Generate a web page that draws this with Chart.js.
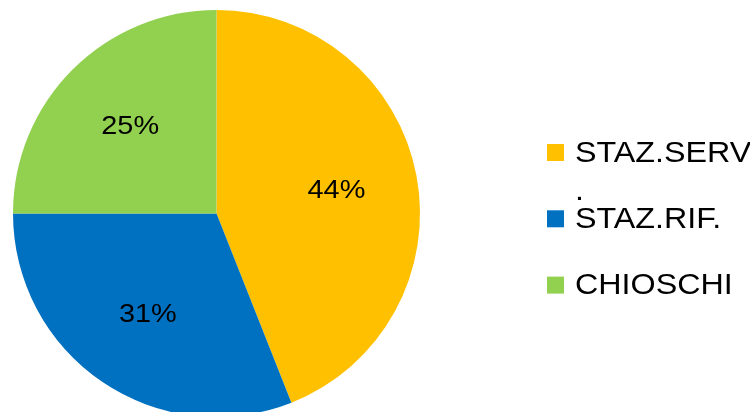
<!DOCTYPE html>
<html lang="it">
<head>
    <meta charset="UTF-8">
    <title>Ripartizione</title>
    <script src="https://cdn.jsdelivr.net/npm/chart.js"></script>
    <style>
        html, body {
            margin: 0;
            padding: 0;
            background: #ffffff;
            overflow: hidden;
        }
    </style>
</head>
<body>
    <canvas id="pieChart" width="750" height="430"></canvas>

    <script>
        const categories = ['STAZ.SERV.', 'STAZ.RIF.', 'CHIOSCHI'];
        const shares = [44, 31, 25];
        const colors = ['#FFC000', '#0070C0', '#92D050'];

        // il testo dell'originale e' un po' allargato in orizzontale
        const stretch = 1.075;

        // percentuali dentro le fette
        const sliceLabels = {
            id: 'sliceLabels',
            afterDatasetsDraw(chart) {
                const ctx = chart.ctx;
                const meta = chart.getDatasetMeta(0);
                const total = shares.reduce((a, b) => a + b, 0);
                ctx.save();
                ctx.font = '26.5px "Liberation Sans", Arial, sans-serif';
                ctx.fillStyle = '#000000';
                ctx.textAlign = 'center';
                ctx.textBaseline = 'middle';
                meta.data.forEach((arc, i) => {
                    const p = arc.getProps(['x', 'y', 'startAngle', 'endAngle', 'outerRadius'], true);
                    const mid = (p.startAngle + p.endAngle) / 2;
                    const r = p.outerRadius * 0.6;
                    const pct = Math.round(shares[i] / total * 100) + '%';
                    const tx = p.x + Math.cos(mid) * r;
                    const ty = p.y + Math.sin(mid) * r;
                    ctx.save();
                    ctx.translate(tx, ty);
                    ctx.scale(1.09, 1);
                    ctx.fillText(pct, 0, 0);
                    ctx.restore();
                });
                ctx.restore();
            }
        };

        // legenda a destra, con a capo come nell'originale
        const sideLegend = {
            id: 'sideLegend',
            afterDraw(chart) {
                const ctx = chart.ctx;
                const x0 = 547, y0 = 152.5, step = 66.3, box = 17;
                const textX = 575, maxW = 178;
                ctx.save();
                ctx.font = '30px "Liberation Sans", Arial, sans-serif';
                ctx.textAlign = 'left';
                ctx.textBaseline = 'alphabetic';
                chart.data.labels.forEach((label, i) => {
                    const cy = y0 + i * step;
                    ctx.fillStyle = chart.data.datasets[0].backgroundColor[i];
                    ctx.fillRect(x0, cy - box / 2, box, box);
                    ctx.fillStyle = '#000000';
                    let lines = [];
                    let rest = label;
                    while (rest.length) {
                        let n = rest.length;
                        while (n > 1 && ctx.measureText(rest.slice(0, n)).width * stretch > maxW) n--;
                        lines.push(rest.slice(0, n));
                        rest = rest.slice(n);
                    }
                    lines.forEach((line, j) => {
                        ctx.save();
                        ctx.translate(textX, cy + 9 + j * 38);
                        ctx.scale(stretch, 1);
                        ctx.fillText(line, 0, 0);
                        ctx.restore();
                    });
                });
                ctx.restore();
            }
        };

        new Chart(document.getElementById('pieChart'), {
            type: 'pie',
            data: {
                labels: categories,
                datasets: [{
                    data: shares,
                    backgroundColor: colors,
                    borderWidth: 0
                }]
            },
            options: {
                responsive: false,
                animation: false,
                layout: {
                    padding: { left: 13, top: 10, right: 330, bottom: 13 }
                },
                plugins: {
                    legend: { display: false },
                    tooltip: { enabled: false }
                }
            },
            plugins: [sliceLabels, sideLegend]
        });
    </script>
</body>
</html>
